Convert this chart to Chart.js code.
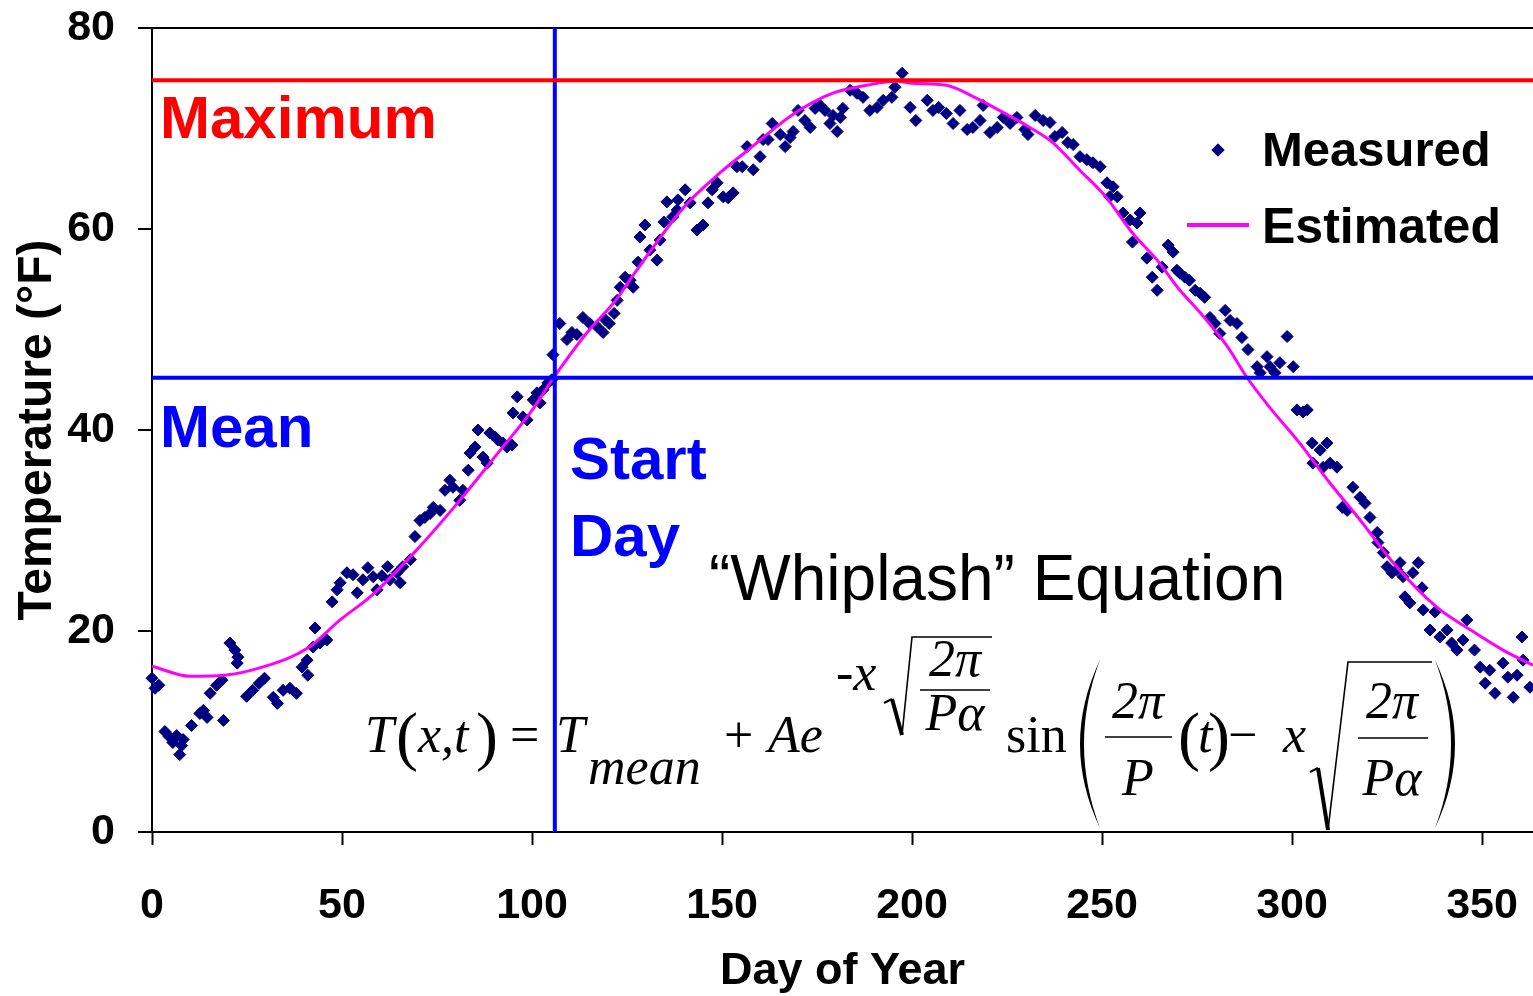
<!DOCTYPE html>
<html>
<head>
<meta charset="utf-8">
<script src="https://cdn.jsdelivr.net/npm/chart.js@4.4.0/dist/chart.umd.min.js"></script>
<style>
  html, body { margin: 0; padding: 0; background: #fff; }
</style>
</head>
<body>
<canvas id="tempChart" width="1533" height="996"></canvas>
<script>
// axis ranges and ticks
const dayMin = 0, dayMax = 363.4;
const tempMin = 0, tempMax = 80;
const xTicks = [0, 50, 100, 150, 200, 250, 300, 350];
const yTicks = [0, 20, 40, 60, 80];

// reference lines
const maxTemp = 74.8;
const meanTemp = 45.2;
const startDay = 106;

// measured daily temperatures
const measuredDays = [
  0, 0.8, 1.8, 3.4, 4.5, 5.5, 6.5, 7.3, 7.8, 8.2, 10.4, 12.6, 13.5, 14.5, 15.3, 17, 18.4, 18.8, 20.5, 21.8,
  22.6, 22.4, 24.9, 26.5, 28.2, 29.6, 31.9, 33, 34.5, 36.3, 38, 39.5, 41, 40.8, 42.4, 42.9, 44.2, 46, 47.4, 48.7,
  49.5, 51.3, 52.9, 54, 55.5, 56.8, 58.2, 59.2, 60.5, 62, 62.6, 64.5, 65.3, 66, 68, 69.2, 70.5, 71.8, 73.2, 74,
  75.8, 77.1, 78.4, 79.2, 81, 81.8, 83.2, 83.7, 85, 85.8, 87.1, 88.2, 88.9, 90.3, 91, 92.4, 93.4, 94.7, 95, 96.1,
  97.6, 98.7, 100.3, 101.3, 102.1, 102.9, 104.2, 105.2, 105.5, 107.3, 109.2, 110.5, 111.8, 113.4, 115.2, 117.1, 118.7, 119.2, 120.3, 121.6,
  122.4, 123.2, 124.5, 125.8, 126.6, 127.9, 131, 132.9, 133.7, 128.4, 129.7, 134.7, 137, 138.2, 135.5, 138.4, 140.3, 141.6, 143.4, 145,
  146.3, 147.4, 148.7, 150.3, 151.6, 152.9, 153.9, 155.3, 156.6, 158.2, 160, 160.8, 162.1, 163.2, 165.3, 166.6, 167.9, 168.7, 170, 171.8,
  173.2, 174.5, 175.8, 177.1, 178.4, 179.2, 180.3, 181.1, 181.8, 183.7, 185.5, 187.1, 188.9, 190.8, 192.4, 194.7, 195.5, 197.4, 199.5, 201,
  204, 205.5, 207, 209, 210.8, 212.6, 214.5, 216, 217.9, 218.7, 220.5, 222.4, 224, 225.8, 227.6, 229.7, 230.5, 232.4, 234.5, 236.3,
  237.6, 239.5, 241, 242.4, 244.2, 246, 247.6, 249.5, 251.3, 252.9, 252, 254, 255.5, 257.4, 259.2, 260, 258, 261.8, 263.2, 264.5,
  265.8, 267.4, 268.7, 269.7, 270.5, 271.8, 273, 274.5, 275.8, 277, 278.4, 279.7, 281, 282.4, 283.7, 285.5, 286.8, 288.4, 290.8, 291.6,
  293.4, 294.2, 295.5, 296.8, 298.7, 300.3, 301.3, 302.9, 304, 305.3, 307.4, 309.2, 305.5, 308.2, 310, 311.8, 313.2, 314.5, 316, 317.9,
  319.2, 320.5, 322.4, 322.6, 324, 325, 326.3, 327.6, 328.4, 329.2, 331.8, 333.2, 329.7, 331, 334.2, 334.5, 337.6, 336.3, 338.9, 340.8,
  342, 343.4, 345, 346, 348, 349.5, 350.8, 352, 353.4, 355.5, 356.8, 358.2, 359.2, 360.5, 360.8, 362.6
];
const measuredTemps = [
  15.3, 14.3, 14.6, 10.0, 9.5, 8.9, 9.6, 7.7, 8.6, 9.2, 10.6, 11.8, 12.1, 11.4, 13.8, 14.6, 15.1, 11.1, 18.8, 18.1,
  17.4, 16.8, 13.5, 14.1, 14.8, 15.3, 13.4, 12.8, 14.1, 14.3, 13.8, 16.4, 15.6, 17.1, 18.4, 20.3, 18.8, 19.1, 22.9, 24.1,
  24.8, 25.8, 25.6, 23.8, 25.1, 26.3, 25.4, 24.1, 25.5, 26.4, 25.1, 25.8, 24.8, 26.4, 27.1, 29.4, 31.0, 31.3, 31.7, 32.3,
  32.0, 34.0, 35.0, 34.3, 33.0, 34.0, 36.0, 37.7, 38.3, 40.0, 37.3, 36.7, 39.7, 39.3, 39.0, 38.7, 38.3, 38.5, 41.7, 43.3,
  41.3, 41.0, 43.0, 43.7, 42.7, 44.0, 44.7, 45.0, 47.5, 50.6, 49.0, 49.7, 49.5, 51.2, 50.6, 50.3, 49.7, 51.0, 50.6, 51.6,
  52.9, 54.2, 55.2, 54.9, 54.2, 56.7, 57.9, 56.9, 58.9, 59.2, 60.4, 60.7, 61.2, 61.9, 62.7, 62.9, 63.9, 62.6, 59.9, 60.4,
  62.6, 63.9, 64.6, 63.2, 63.1, 63.6, 66.2, 66.2, 68.2, 65.9, 67.2, 68.9, 68.9, 70.5, 69.4, 68.2, 69.1, 69.7, 71.8, 70.8,
  70.1, 72.0, 72.3, 71.8, 70.5, 71.3, 69.7, 71.1, 72.0, 73.8, 73.5, 73.1, 71.8, 72.1, 72.8, 73.1, 74.1, 75.5, 72.1, 70.8,
  72.8, 71.8, 72.1, 71.5, 70.5, 71.8, 69.9, 70.1, 70.8, 72.3, 69.6, 70.1, 71.1, 70.5, 71.1, 69.9, 69.4, 71.3, 70.8, 70.6,
  69.2, 69.6, 68.6, 68.4, 67.2, 66.9, 66.6, 66.2, 64.6, 64.2, 63.2, 63.2, 61.6, 60.9, 60.6, 61.6, 58.7, 57.1, 55.2, 53.9,
  56.2, 58.4, 57.7, 55.9, 55.6, 55.2, 54.9, 53.9, 53.6, 53.2, 51.2, 50.6, 49.6, 51.9, 50.9, 50.6, 49.2, 48.0, 46.3, 45.7,
  47.3, 46.3, 45.7, 46.7, 49.3, 46.3, 42.0, 41.8, 42.0, 38.7, 38.0, 38.7, 36.7, 36.3, 36.7, 36.3, 32.3, 32.0, 34.3, 33.3,
  32.7, 31.3, 29.8, 28.8, 27.8, 26.4, 25.8, 26.1, 26.8, 25.4, 25.8, 26.8, 23.4, 22.8, 24.3, 22.1, 21.9, 20.1, 19.4, 20.1,
  18.8, 18.1, 19.1, 21.1, 18.1, 16.4, 14.8, 16.1, 13.8, 16.8, 15.4, 13.4, 15.6, 19.4, 17.1, 14.4
];

// estimated curve, sampled off the plot
const estDays = [0, 10, 19, 29, 41, 49.5, 58, 69, 81, 91, 99.5, 106.6, 114.5, 122, 127, 140, 149.5, 157, 169, 179, 188, 196,
  200, 209, 217, 223, 231, 237, 244, 251, 258, 264.5, 270.5, 276, 283, 288, 294, 302, 310, 318, 326.6, 338, 347, 355.5, 363.4];
const estTemps = [16.5, 15.5, 15.6, 16.4, 18.3, 21.1, 23.6, 27.8, 33.0, 37.7, 41.7, 45.7, 49.7, 52.9, 55.6, 62.2, 65.6, 67.9, 71.5, 73.5, 74.3, 74.7,
  74.5, 74.3, 73.0, 71.8, 70.1, 68.6, 65.9, 63.2, 59.6, 56.9, 53.9, 51.6, 48.3, 45.3, 42.3, 38.7, 34.7, 31.0, 26.8, 22.4, 20.1, 18.1, 16.6];

const SANS = "'Liberation Sans', Arial, sans-serif";
const SERIF = "'Liberation Serif', 'Times New Roman', serif";
const NAVY = '#000080';

function txt(ctx, s, x, y, font, align) {
  ctx.font = font;
  ctx.textAlign = align || 'left';
  ctx.textBaseline = 'alphabetic';
  ctx.fillText(s, x, y);
}

function seg(ctx, pts, w) {
  ctx.lineWidth = w;
  ctx.beginPath();
  ctx.moveTo(pts[0][0], pts[0][1]);
  for (let i = 1; i < pts.length; i++) ctx.lineTo(pts[i][0], pts[i][1]);
  ctx.stroke();
}

// tall bracket, dir -1 = '(' , +1 = ')'
function bigParen(ctx, x, top, bottom, dir) {
  const mid = (top + bottom) / 2;
  ctx.beginPath();
  ctx.moveTo(x, top);
  ctx.quadraticCurveTo(x + dir * 40, mid, x, bottom);
  ctx.quadraticCurveTo(x + dir * 32, mid, x, top);
  ctx.fill();
}

function radical(ctx, x0, yTick, yBottom, xTop, yTop, xEnd) {
  seg(ctx, [[x0, yTick + 4], [x0 + 8, yTick]], 2);
  seg(ctx, [[x0 + 8, yTick], [x0 + 18, yBottom]], 4);
  seg(ctx, [[x0 + 18, yBottom], [xTop, yTop], [xEnd, yTop]], 1.6);
}

// plot runs right up to the canvas edge, as in the original
const fullWidth = {
  id: 'fullWidth',
  afterLayout(chart) {
    const x = chart.scales.x;
    chart.chartArea.right = chart.width;
    chart.chartArea.width = chart.chartArea.right - chart.chartArea.left;
    x.right = chart.width;
    x.width = x.right - x.left;
    x.configure();
  }
};

const annotations = {
  id: 'annotations',
  afterDraw(chart) {
    const ctx = chart.ctx;
    ctx.save();

    // labels on the plot
    ctx.fillStyle = '#ff0000';
    txt(ctx, 'Maximum', 160, 138, `bold 60px ${SANS}`);
    ctx.fillStyle = '#0000ff';
    txt(ctx, 'Mean', 160, 447, `bold 60px ${SANS}`);
    txt(ctx, 'Start', 570, 479, `bold 60px ${SANS}`);
    txt(ctx, 'Day', 570, 556, `bold 60px ${SANS}`);
    ctx.fillStyle = '#000';
    txt(ctx, '\u201CWhiplash\u201D Equation', 709, 600, `64px ${SANS}`);

    // legend
    Chart.helpers.drawPoint(ctx, { pointStyle: 'rectRot', radius: 6.5, borderWidth: 0 }, 1218, 150);
    ctx.fillStyle = NAVY;
    ctx.fill();
    ctx.strokeStyle = '#ff00ff';
    seg(ctx, [[1187, 225], [1249, 225]], 4);
    ctx.fillStyle = '#000';
    txt(ctx, 'Measured', 1262, 166, `bold 49px ${SANS}`);
    txt(ctx, 'Estimated', 1262, 243, `bold 50px ${SANS}`);

    // equation
    const it = `italic 52px ${SERIF}`, up = `52px ${SERIF}`, par = `66px ${SERIF}`;
    ctx.fillStyle = '#000';
    ctx.strokeStyle = '#000';
    txt(ctx, 'T', 365, 752, it);
    txt(ctx, '(', 396, 758, par);
    txt(ctx, 'x,t', 418, 752, it);
    txt(ctx, ')', 476, 758, par);
    txt(ctx, '=', 510, 752, up);
    txt(ctx, 'T', 556, 752, it);
    txt(ctx, 'mean', 588, 784, it);
    txt(ctx, '+', 724, 752, up);
    txt(ctx, 'Ae', 768, 752, it);
    txt(ctx, '-x', 836, 690, it);
    radical(ctx, 884, 699, 735, 912, 637, 992);
    txt(ctx, '2\u03C0', 955, 676, it, 'center');
    seg(ctx, [[920, 690], [990, 690]], 1.6);
    txt(ctx, 'P\u03B1', 955, 730, it, 'center');
    txt(ctx, 'sin', 1006, 752, up);
    bigParen(ctx, 1100, 660, 828, -1);
    txt(ctx, '2\u03C0', 1138, 718, it, 'center');
    seg(ctx, [[1105, 737], [1172, 737]], 1.6);
    txt(ctx, 'P', 1138, 795, it, 'center');
    txt(ctx, '(', 1178, 758, par);
    txt(ctx, 't', 1198, 752, it);
    txt(ctx, ')', 1208, 758, par);
    txt(ctx, '\u2212', 1228, 752, up);
    txt(ctx, 'x', 1283, 752, it);
    radical(ctx, 1310, 768, 830, 1348, 662, 1432);
    txt(ctx, '2\u03C0', 1392, 718, it, 'center');
    seg(ctx, [[1358, 738], [1428, 738]], 1.6);
    txt(ctx, 'P\u03B1', 1392, 795, it, 'center');
    bigParen(ctx, 1435, 660, 828, 1);

    ctx.restore();
  }
};

const tickFont = { family: SANS, size: 43, weight: 'bold' };
const titleFont = { family: SANS, size: 45, weight: 'bold', lineHeight: 1 };

new Chart(document.getElementById('tempChart'), {
  type: 'scatter',
  data: {
    datasets: [
      {
        label: 'Maximum', type: 'line',
        data: [{ x: dayMin, y: maxTemp }, { x: dayMax, y: maxTemp }],
        borderColor: '#ff0000', borderWidth: 4, pointRadius: 0
      },
      {
        label: 'Mean', type: 'line',
        data: [{ x: dayMin, y: meanTemp }, { x: dayMax, y: meanTemp }],
        borderColor: '#0000ff', borderWidth: 4, pointRadius: 0
      },
      {
        label: 'Start Day', type: 'line',
        data: [{ x: startDay, y: tempMin }, { x: startDay, y: tempMax }],
        borderColor: '#0000ff', borderWidth: 4, pointRadius: 0
      },
      {
        label: 'Estimated', type: 'line',
        data: estDays.map((d, i) => ({ x: d, y: estTemps[i] })),
        borderColor: '#ff00ff', borderWidth: 3, pointRadius: 0,
        cubicInterpolationMode: 'monotone'
      },
      {
        label: 'Measured',
        data: measuredDays.map((d, i) => ({ x: d, y: measuredTemps[i] })),
        pointStyle: 'rectRot', pointRadius: 6,
        backgroundColor: NAVY, borderColor: NAVY, borderWidth: 1,
        clip: false
      }
    ]
  },
  options: {
    responsive: false,
    animation: false,
    devicePixelRatio: 1,
    events: [],
    layout: { padding: { top: 28, right: 0, bottom: 0, left: 0 } },
    plugins: { legend: { display: false }, tooltip: { enabled: false } },
    scales: {
      x: {
        type: 'linear', min: dayMin, max: dayMax,
        afterFit: s => { s.height = 164; s.paddingLeft = 0; s.paddingRight = 0; },
        afterBuildTicks: s => { s.ticks = xTicks.map(v => ({ value: v })); },
        ticks: { color: '#000', font: tickFont, padding: 35, maxRotation: 0, autoSkip: false },
        grid: { drawOnChartArea: false, tickLength: 13, tickColor: '#000', tickWidth: 2 },
        border: { color: '#000', width: 2 },
        title: { display: true, text: 'Day of Year', color: '#000', font: titleFont, padding: { top: 0, bottom: 2 } }
      },
      y: {
        type: 'linear', min: tempMin, max: tempMax,
        afterFit: s => { s.width = 152; s.paddingTop = 0; s.paddingBottom = 0; },
        afterBuildTicks: s => { s.ticks = yTicks.map(v => ({ value: v })); },
        ticks: { color: '#000', font: tickFont, padding: 23 },
        grid: {
          color: c => (c.tick && c.tick.value === tempMax ? '#000' : 'rgba(0,0,0,0)'),
          lineWidth: 2, tickLength: 14, tickColor: '#000', tickWidth: 2
        },
        border: { color: '#000', width: 2 },
        title: {
          display: true, text: 'Temperature (°F)', color: '#000',
          font: { family: SANS, size: 48, weight: 'bold', lineHeight: 1 }, padding: { top: 14, bottom: 0 }
        }
      }
    }
  },
  plugins: [fullWidth, annotations]
});
</script>
</body>
</html>
